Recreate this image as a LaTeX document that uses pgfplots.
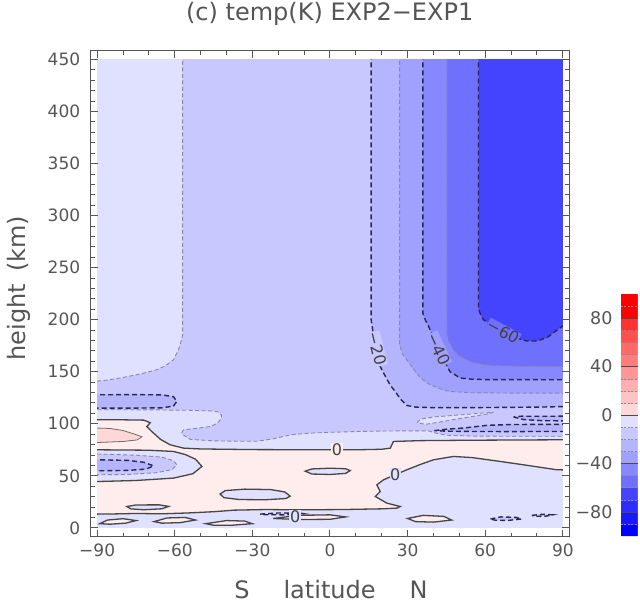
\documentclass[border=0pt]{standalone}
\usepackage{pgfplots}
\pgfplotsset{compat=1.18}
\usepackage{fontspec}
\setmainfont{DejaVu Sans}
\definecolor{tgrey}{RGB}{85,85,85}
\definecolor{L0}{RGB}{224,224,255}
\definecolor{B1}{RGB}{200,200,255}
\definecolor{B2}{RGB}{180,180,255}
\definecolor{B3}{RGB}{160,160,255}
\definecolor{B4}{RGB}{135,135,255}
\definecolor{B5}{RGB}{112,112,255}
\definecolor{B6}{RGB}{68,68,255}
\definecolor{P0}{RGB}{255,236,236}
\definecolor{P1}{RGB}{255,215,215}
\definecolor{ltc}{RGB}{135,135,165}
\definecolor{dkc}{RGB}{40,40,80}
\definecolor{zc}{RGB}{70,70,70}
\tikzset{
  lt/.style={draw=ltc, line width=0.9pt, dash pattern=on 4pt off 2.5pt},
  dk/.style={draw=dkc, line width=1.4pt, dash pattern=on 5pt off 3pt},
  zs/.style={draw=zc, line width=1.3pt},
  ps/.style={draw=zc!80, line width=0.8pt},
  clab/.style={font=\fontsize{16}{16}\selectfont, text=black!75, inner sep=0.6pt},
}
\begin{document}
\begin{tikzpicture}
\useasboundingbox (-90.7pt,-75.3pt) rectangle (549.3pt,536.7pt);
% ---------------- data region ----------------
\begin{axis}[at={(6.47pt,8.85pt)}, anchor=south west, scale only axis,
  width=465.7pt, height=468.3pt, xmin=-90, xmax=90, ymin=0, ymax=450, hide axis]
% base band -10..0
\addplot[fill=L0, draw=none] coordinates {(-95,-5) (95,-5) (95,455) (-95,455)} -- cycle;
% T < -10 (large region)
\addplot[fill=B1, lt] coordinates {(-57,455) (-57,185) (-57.8,177) (-58.6,171) (-60.5,161.5) (-63.5,156) (-66.9,152) (-73,148) (-80,144.5) (-86,142) (-90,141) (-95,140.5) (-95,113.5) (-90,113.5) (-70,113.4) (-55,113) (-46,112.3) (-43.4,111.5) (-42,108.5) (-41.9,105.4) (-43.5,100.5) (-46.3,97.4) (-52,95.5) (-56.6,94.2) (-57.3,91.5) (-56.8,89.4) (-54,85) (-45,83.6) (-35,83.2) (-28.3,83.2) (-22,85.5) (-15,89.5) (-8,91) (0,91.8) (10,92.5) (20,93) (30,93.2) (38,93.2) (41,91) (45,89) (55,88.2) (70,88) (90,88) (95,88) (95,455)} -- cycle;
% lavender strip (-10 < T) inside
\addplot[fill=L0, lt] coordinates {(33.6,101) (35,104.5) (40,106.5) (50,108.5) (60,110.5) (63.2,111) (60,109) (50,105) (42,101.5) (37,99.5)} -- cycle;
% T < -20 loops on the right
\addplot[fill=B2, dk] coordinates {(40.3,93.4) (45,94.8) (52,96) (60.6,98.5) (70,99.3) (90,99.5) (95,99.5) (95,92.6) (90,92.6) (70,92.5) (55,92.6) (45,92.9)} -- cycle;
\addplot[fill=B2, dk] coordinates {(70.9,106.5) (75,104) (82,103) (90,102.8) (95,102.8) (95,107.5) (90,107.3) (80,107.2) (74,107.3)} -- cycle;
% T < -20 upper right
\addplot[fill=B2, dk] coordinates {(15.9,455) (15.9,200) (16.6,188) (17.8,172) (19.4,155) (21.5,145) (23.3,137) (25.5,130) (27.1,124) (29.7,117.6) (33,116) (40,115.5) (60,115.6) (80,116) (90,116.5) (95,116.5) (95,455)} -- cycle;
% T < -20 left
\addplot[fill=B2, dk] coordinates {(-95,127.9) (-90,127.9) (-75,128) (-65,127.8) (-60.5,126) (-59.2,121.5) (-60.5,117) (-65,115.3) (-75,115.1) (-90,115.1) (-95,115.1)} -- cycle;
% T < -30
\addplot[fill=B3, lt] coordinates {(26.9,455) (26.9,176) (27.8,168) (29.5,162) (31,157) (33,150) (35,144) (38,138.5) (42,134) (46.4,131) (55,129.8) (70,129.5) (90,129.5) (95,129.5) (95,455)} -- cycle;
% T < -40
\addplot[fill=B4, dk] coordinates {(35.9,455) (35.9,206) (36.8,200) (38.1,193.6) (40,183) (42,172) (44.2,160) (46.4,150) (50.3,144) (55,142.8) (59.3,142.5) (90,142.3) (95,142.3) (95,455)} -- cycle;
% T < -50
\addplot[fill=B5, lt] coordinates {(45.2,455) (45.2,186) (45.8,180) (47.7,171) (50,165) (55.5,158.5) (62,156) (75,155.2) (90,155) (95,155) (95,455)} -- cycle;
% T < -60
\addplot[fill=B6, dk] coordinates {(57.4,455) (57.4,210) (58.2,205) (59.3,200) (62,195.5) (66.9,188.5) (71,183) (76.1,179.5) (80,179.5) (84,183) (87.7,190) (90,194) (95,200) (95,455)} -- cycle;
% T > 0
\addplot[fill=P0, zs] coordinates {(-95,103.8) (-90,103.8) (-80,103.8) (-72,103.5) (-69.5,101) (-70.8,97.4) (-68.9,92.6) (-65.5,85) (-61.8,79.8) (-56.6,76.6) (-50,75.8) (-30,75.2) (-3.8,75) (10,75) (20,75.5) (23.3,76.6) (24.5,83) (35,83.8) (55,84.2) (87.7,84.6) (95,84.6) (95,55.5) (87.7,55.8) (75,60.5) (65.8,63.8) (55,67.5) (47.7,68.6) (40,65.4) (35,61) (29.7,55.8) (25.2,51) (20.7,46.2) (18.1,41.3) (19.4,34.9) (17.5,30.1) (22,23.7) (27.1,20.5) (26,19) (20.7,18.3) (5,17.6) (-11.5,17.3) (-25,17.6) (-37,17) (-45,15.5) (-55,14.3) (-65,13.5) (-75,13.8) (-85,13.3) (-90,13.2) (-95,13.2) (-95,44.5) (-90,44.5) (-75,45.5) (-60.5,47.8) (-53,52) (-49.5,59) (-52,66) (-56,70.5) (-60.5,73.4) (-70,74.6) (-90,75) (-95,75)} -- cycle;
% T > 10
\addplot[fill=P1, ps] coordinates {(-95,95.9) (-90,95.9) (-85,95.5) (-80,93.5) (-75.5,90) (-72.7,87.5) (-74.5,84.5) (-80,83) (-90,82) (-95,82)} -- cycle;
% left negative blob
\addplot[fill=B1, lt] coordinates {(-95,71) (-90,71) (-75,69.8) (-65,68) (-60.5,64.5) (-59.2,60.6) (-61,56) (-67,53) (-78,51.3) (-90,51) (-95,51)} -- cycle;
\addplot[fill=B2, dk] coordinates {(-95,65.4) (-90,65.4) (-78,64.8) (-72,63) (-68.2,59.6) (-71,56.5) (-78,55.2) (-90,54.8) (-95,54.8)} -- cycle;
% negative holes in the positive band
\addplot[fill=L0, zs] coordinates {(-9.6,54.5) (-7,56.6) (0,57.3) (6,56.8) (7.8,55) (6,52.3) (0,51.3) (-7,51.7)} -- cycle;
\addplot[fill=L0, zs] coordinates {(-42.5,32.5) (-40.5,35.8) (-33,37.2) (-23,36.8) (-17.5,34.5) (-15.4,30.5) (-17,28.2) (-25,27) (-35,27.2) (-41,29)} -- cycle;
\addplot[fill=L0, zs] coordinates {(-78.5,20.5) (-75,22) (-66,22.1) (-62.4,20.6) (-65,18.3) (-72,17.4) (-77,18.2)} -- cycle;
% small features near the ground
\addplot[fill=P0, zs] coordinates {(-89,4) (-86,7.5) (-80,8.8) (-75,7) (-79,4.5) (-85,3.5)} -- cycle;
\addplot[fill=P0, zs] coordinates {(-68,6) (-63,9.5) (-56,10) (-52,7.5) (-58,5) (-65,4.5)} -- cycle;
\addplot[fill=P0, zs] coordinates {(-48,4) (-40,7) (-33,6.5) (-30,4) (-38,2.5) (-45,2.5)} -- cycle;
\addplot[fill=P0, zs] coordinates {(-22,9) (-12,12) (0,12.5) (6,10.5) (0,8.2) (-12,8)} -- cycle;
\addplot[fill=P0, zs] coordinates {(30,9) (36,12) (44,11) (47,7.5) (40,5.5) (33,6)} -- cycle;
\addplot[fill=B1, dk] coordinates {(62,8.5) (66,10.5) (72,10) (74,8.5) (69,7.2) (64,7.3)} -- cycle;
\addplot[fill=B1, dk] coordinates {(78,12) (82,13) (86,12.5) (83,11) (79,11.2)} -- cycle;
\addplot[fill=B1, dk] coordinates {(-27,13.2) (-20,14.3) (-12,14.3) (-10,13.5) (-18,12.5) (-25,12.6)} -- cycle;
% contour labels
\node[clab, fill=P0] at (axis cs:2.7,75) {0};
\node[clab, fill=L0] at (axis cs:25.2,51) {0};
\node[clab, fill=L0] at (axis cs:-13.5,11) {0};
\node[clab, fill=B1, rotate=-76] at (axis cs:18.2,172) {−20};
\node[clab, fill=B3, rotate=-65] at (axis cs:42,172) {−40};
\node[clab, fill=B5, rotate=-28] at (axis cs:66.9,188.5) {−60};
\end{axis}
% ---------------- frame, ticks, labels, colour bar ----------------
\begin{axis}[at={(0pt,0pt)}, anchor=south west, scale only axis,
  width=478.6pt, height=486pt,
  xmin=-92.5, xmax=92.5, ymin=-8.5, ymax=458.5,
  axis line style={draw=tgrey, line width=1.2pt},
  xtick={-90,-60,-30,0,30,60,90},
  xticklabels={−90,−60,−30,0,30,60,90},
  minor xtick={-80,-70,-50,-40,-20,-10,10,20,40,50,70,80},
  ytick={0,50,100,150,200,250,300,350,400,450},
  yticklabels={0,50,100,150,200,250,300,350,400,450},
  minor ytick={10,20,30,40,60,70,80,90,110,120,130,140,160,170,180,190,210,220,230,240,260,270,280,290,310,320,330,340,360,370,380,390,410,420,430,440},
  tick align=inside, major tick length=7pt, minor tick length=4pt,
  every tick/.style={draw=tgrey, line width=1pt},
  tick label style={font=\fontsize{17}{17}\selectfont, text=tgrey},
  xticklabel style={yshift=-4pt},
  yticklabel style={xshift=-7pt},
  title={(c) temp(K) EXP2−EXP1},
  title style={at={(axis description cs:0.4995,1.0632)}, anchor=center, font=\fontsize{24}{24}\selectfont, text=tgrey},
  xlabel={S\hspace{34pt}latitude\hspace{34pt}N},
  xlabel style={at={(axis description cs:0.502,-0.1097)}, anchor=center, font=\fontsize{24}{24}\selectfont, text=tgrey},
  ylabel={height\hspace{12pt}(km)},
  ylabel style={at={(axis description cs:-0.1498,0.5117)}, anchor=center, font=\fontsize{24}{24}\selectfont, text=tgrey},
  colormap={tempcm}{rgb255=(0,0,255) rgb255=(25,25,255) rgb255=(45,45,255) rgb255=(68,68,255) rgb255=(112,112,255) rgb255=(135,135,255) rgb255=(160,160,255) rgb255=(180,180,255) rgb255=(200,200,255) rgb255=(224,224,255) rgb255=(255,236,236) rgb255=(255,215,215) rgb255=(255,195,195) rgb255=(255,175,175) rgb255=(255,150,150) rgb255=(255,125,125) rgb255=(255,105,105) rgb255=(255,80,80) rgb255=(255,50,50) rgb255=(255,0,0) rgb255=(255,0,0)},
  colormap access=piecewise constant,
  point meta min=-100, point meta max=100,
  colorbar sampled,
  colorbar style={at={(1.108,0.0014)}, anchor=south west, scale only axis,
    width=16.7pt, height=242pt, samples=21,
    ytick={-80,-40,0,40,80}, yticklabels={−80,−40,0,40,80},
    minor ytick={-90,-70,-60,-50,-30,-20,-10,10,20,30,50,60,70,90},
    yticklabel pos=left, major tick length=0pt, minor tick length=0pt,
    ymajorgrids, yminorgrids, axis on top,
    major grid style={draw=black!70, line width=0.6pt},
    minor grid style={draw=black!45, line width=0.4pt, dash pattern=on 2pt off 1.5pt},
    axis line style={draw=none},
    yticklabel style={font=\fontsize{17.5}{17.5}\selectfont, text=tgrey, xshift=-5pt}},
]
\addplot[draw=none] coordinates {(0,0)};
\end{axis}
\end{tikzpicture}
\end{document}
